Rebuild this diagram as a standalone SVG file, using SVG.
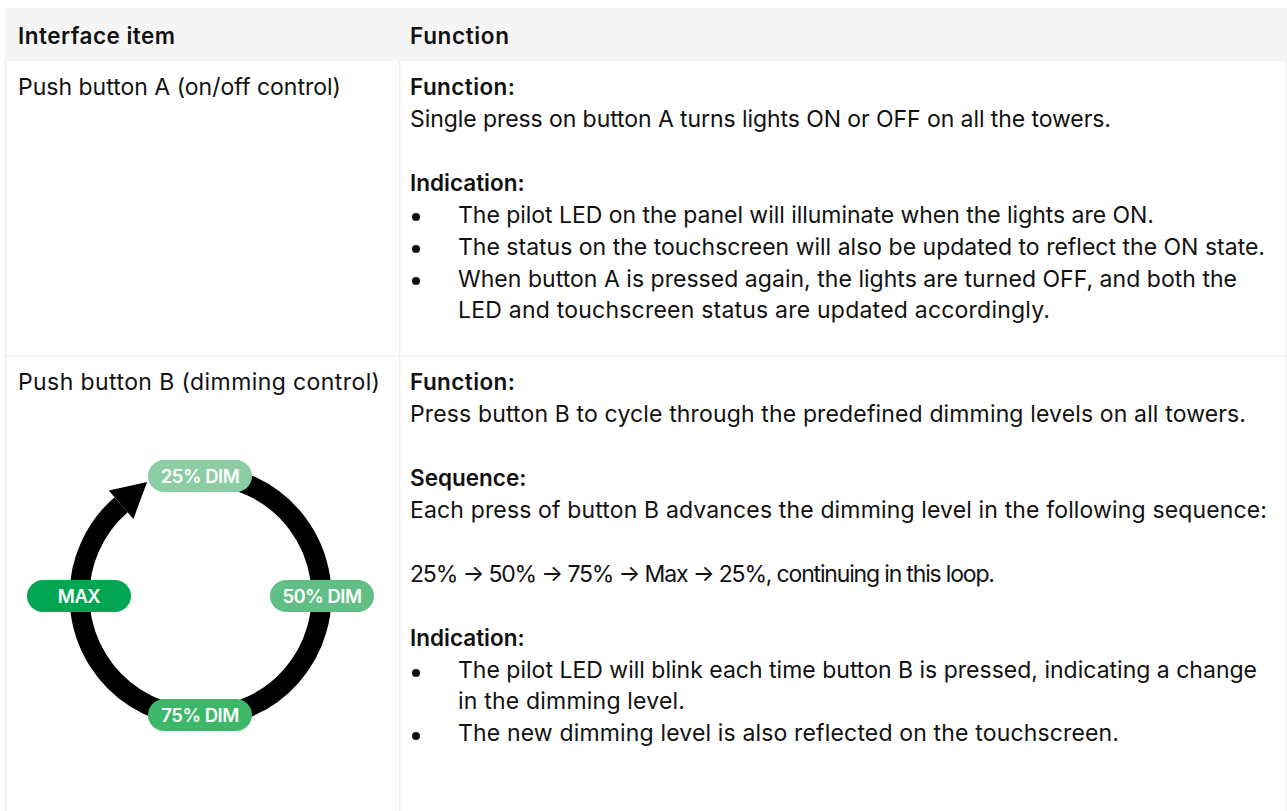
<svg xmlns="http://www.w3.org/2000/svg" width="1287" height="811" viewBox="0 0 1287 811">
<style>
text{font-family:Inter,"Noto Sans","Liberation Sans",sans-serif;font-size:23px;fill:#111;letter-spacing:0}
.b{font-weight:600;font-size:22.5px}
.grid{stroke:#efefef;stroke-width:1.5;fill:none}
.pill text{font-size:18.5px;font-weight:600;fill:#fff;text-anchor:middle;letter-spacing:-0.5px}
</style>
<rect width="1287" height="811" fill="#fff"/>
<g id="table">
<rect x="5" y="8" width="1282" height="53" fill="#f5f5f5"/>
<line class="grid" x1="5.5" y1="61" x2="5.5" y2="811"/>
<line class="grid" x1="399.5" y1="61" x2="399.5" y2="811"/>
<line class="grid" x1="1286.5" y1="61" x2="1286.5" y2="811"/>
<line class="grid" x1="5" y1="356" x2="1287" y2="356"/>
</g>
<g id="header">
<text class="b" x="18" y="44" textLength="157" lengthAdjust="spacing">Interface item</text>
<text class="b" x="410" y="44" textLength="99" lengthAdjust="spacing">Function</text>
</g>
<g id="row-a">
<text x="18" y="95" textLength="323" lengthAdjust="spacing">Push button A (on/off control)</text>
<text class="b" x="410" y="95" textLength="105" lengthAdjust="spacing">Function:</text>
<text x="410" y="127" textLength="701" lengthAdjust="spacing">Single press on button A turns lights ON or OFF on all the towers.</text>
<text class="b" x="410" y="191">Indication:</text>
<circle cx="416" cy="217" r="4" fill="#111"/>
<text x="458" y="223" textLength="696" lengthAdjust="spacing">The pilot LED on the panel will illuminate when the lights are ON.</text>
<circle cx="416" cy="249" r="4" fill="#111"/>
<text x="458" y="255" textLength="807" lengthAdjust="spacing">The status on the touchscreen will also be updated to reflect the ON state.</text>
<circle cx="416" cy="281" r="4" fill="#111"/>
<text x="458" y="287" textLength="779" lengthAdjust="spacing">When button A is pressed again, the lights are turned OFF, and both the</text>
<text x="458" y="318" textLength="592" lengthAdjust="spacing">LED and touchscreen status are updated accordingly.</text>
</g>
<g id="row-b">
<text x="18" y="390" textLength="362" lengthAdjust="spacing">Push button B (dimming control)</text>
<text class="b" x="410" y="390" textLength="105" lengthAdjust="spacing">Function:</text>
<text x="410" y="422" textLength="836" lengthAdjust="spacing">Press button B to cycle through the predefined dimming levels on all towers.</text>
<text class="b" x="410" y="486">Sequence:</text>
<text x="410" y="518" textLength="857" lengthAdjust="spacing">Each press of button B advances the dimming level in the following sequence:</text>
<text x="410" y="582" textLength="585" lengthAdjust="spacing">25% → 50% → 75% → Max → 25%, continuing in this loop.</text>
<text class="b" x="410" y="646">Indication:</text>
<circle cx="416" cy="673" r="4" fill="#111"/>
<text x="458" y="678" textLength="799" lengthAdjust="spacing">The pilot LED will blink each time button B is pressed, indicating a change</text>
<text x="458" y="709" textLength="227" lengthAdjust="spacing">in the dimming level.</text>
<circle cx="416" cy="736" r="4" fill="#111"/>
<text x="458" y="741" textLength="661" lengthAdjust="spacing">The new dimming level is also reflected on the touchscreen.</text>
</g>
<g id="connectors">
<path d="M 200.5 475 A 121 121 0 1 1 121.1 504.7" fill="none" stroke="#000" stroke-width="20"/>
<polygon points="108.8,490.5 133.4,518.9 147.1,481.9" fill="#000"/>
</g>
<g id="pill-25" class="pill">
<rect x="148" y="460" width="104" height="32" rx="16" fill="#8ccda3"/>
<text x="200" y="482.5">25% DIM</text>
</g>
<g id="pill-50" class="pill">
<rect x="270" y="580" width="104" height="32" rx="16" fill="#61bf86"/>
<text x="322" y="602.5">50% DIM</text>
</g>
<g id="pill-75" class="pill">
<rect x="148" y="699" width="104" height="32" rx="16" fill="#3db76a"/>
<text x="200" y="721.5">75% DIM</text>
</g>
<g id="pill-max" class="pill">
<rect x="27" y="580" width="104" height="32" rx="16" fill="#00a651"/>
<text x="79" y="602.5">MAX</text>
</g>
</svg>
